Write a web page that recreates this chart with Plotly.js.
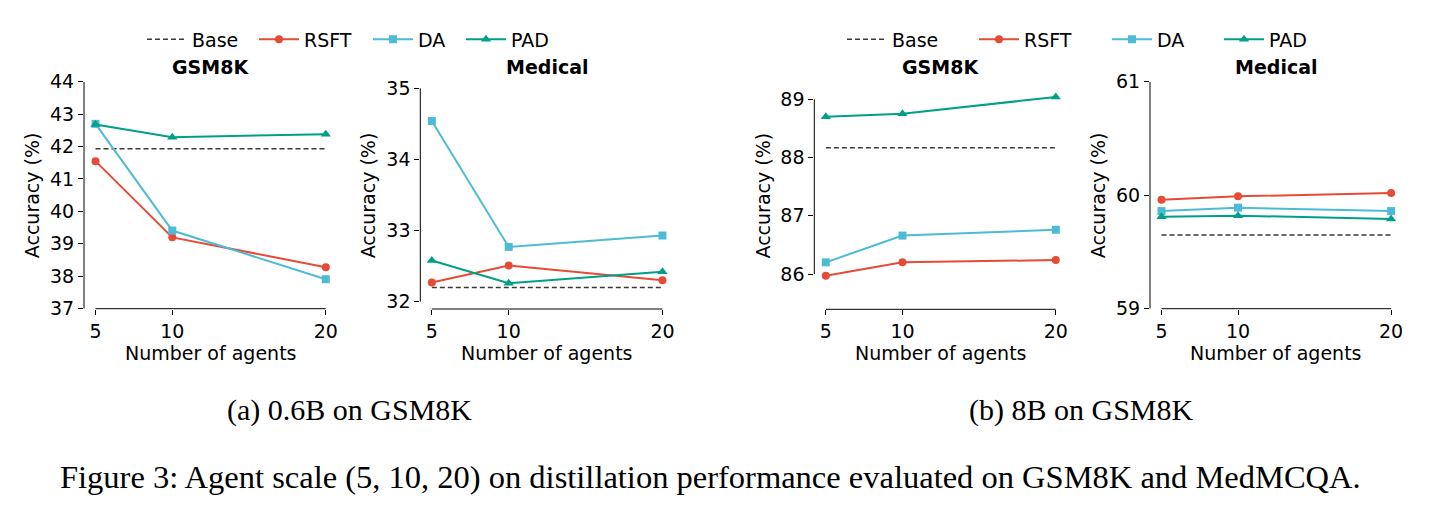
<!DOCTYPE html>
<html>
<head>
<meta charset="utf-8">
<script src="https://cdn.plot.ly/plotly-3.0.1.min.js"></script>
<style>
  html, body { margin: 0; padding: 0; background: #fff; }
  #fig { width: 1433px; height: 511px; }
</style>
</head>
<body>
<div id="fig"></div>
<script>
// Number of agents on the x axis
const agents = [5, 10, 20];

// (a) 0.6B model
const gsm06Base = 41.93;
const gsm06RSFT = [41.55, 39.20, 38.28];
const gsm06DA   = [42.70, 39.41, 37.91];
const gsm06PAD  = [42.68, 42.29, 42.38];

const med06Base = 32.20;
const med06RSFT = [32.27, 32.51, 32.30];
const med06DA   = [34.54, 32.77, 32.93];
const med06PAD  = [32.58, 32.26, 32.42];

// (b) 8B model
const gsm8Base = 88.17;
const gsm8RSFT = [85.97, 86.20, 86.24];
const gsm8DA   = [86.20, 86.66, 86.76];
const gsm8PAD  = [88.70, 88.75, 89.04];

const med8Base = 59.65;
const med8RSFT = [59.96, 59.99, 60.02];
const med8DA   = [59.86, 59.89, 59.86];
const med8PAD  = [59.81, 59.82, 59.79];

// Tick labels
const xTicks = [5, 10, 20];
const yTicksGsm06 = [37, 38, 39, 40, 41, 42, 43, 44];
const yTicksMed06 = [32, 33, 34, 35];
const yTicksGsm8  = [86, 87, 88, 89];
const yTicksMed8  = [59, 60, 61];

const seriesNames = ['Base', 'RSFT', 'DA', 'PAD'];
const panelTitles = ['GSM8K', 'Medical', 'GSM8K', 'Medical'];
const captions = ['(a) 0.6B on GSM8K', '(b) 8B on GSM8K',
  'Figure 3: Agent scale (5, 10, 20) on distillation performance evaluated on GSM8K and MedMCQA.'];

// ---- styling / layout helpers ----
const W = 1433, H = 511;
const px = v => v / W;
const py = v => 1 - v / H;
const FONT = 'DejaVu Sans, sans-serif';
const FS = 19;
const SERIF = 'Liberation Serif, Times New Roman, serif';
const COL = { Base: '#3a3a3a', RSFT: '#E64B35', DA: '#4DBBD5', PAD: '#00A087' };
const SYM = { RSFT: 'circle', DA: 'square', PAD: 'triangle-up' };
const MSIZE = { RSFT: 8, DA: 8, PAD: 9 };

// axis boxes in pixels: [left, right, top, bottom], y range
const panels = [
  { box: [84, 337.3, 81.7, 308.7], yr: [37, 44], ticks: yTicksGsm06,
    base: gsm06Base, data: { RSFT: gsm06RSFT, DA: gsm06DA, PAD: gsm06PAD } },
  { box: [420.3, 674, 81.7, 309], yr: [31.897, 35.093], ticks: yTicksMed06,
    base: med06Base, data: { RSFT: med06RSFT, DA: med06DA, PAD: med06PAD } },
  { box: [814.3, 1067.3, 81.7, 309.3], yr: [85.394, 89.302], ticks: yTicksGsm8,
    base: gsm8Base, data: { RSFT: gsm8RSFT, DA: gsm8DA, PAD: gsm8PAD } },
  { box: [1150, 1402.6, 81.7, 308.7], yr: [59, 61], ticks: yTicksMed8,
    base: med8Base, data: { RSFT: med8RSFT, DA: med8DA, PAD: med8PAD } }
];

// legend entry positions (line start, px) for each half
const legendStarts = [[147, 259, 373, 466], [847, 979, 1112, 1224]];

const traces = [];
const layout = {
  width: W, height: H,
  margin: { l: 0, r: 0, t: 0, b: 0 },
  paper_bgcolor: '#fff', plot_bgcolor: 'rgba(0,0,0,0)',
  font: { family: FONT, size: FS, color: '#000' },
  shapes: [], annotations: []
};

panels.forEach((p, i) => {
  const n = i + 1;
  const xa = 'x' + (n === 1 ? '' : n), ya = 'y' + (n === 1 ? '' : n);
  const xk = 'xaxis' + (n === 1 ? '' : n), yk = 'yaxis' + (n === 1 ? '' : n);
  const [l, r, t, b] = p.box;
  layout[xk] = {
    domain: [px(l), px(r)], range: [4.25, 20.75], anchor: ya,
    tickvals: xTicks, ticktext: xTicks.map(String),
    ticks: 'outside', ticklen: 5, tickwidth: 1, tickcolor: '#000',
    showline: false, showgrid: false, zeroline: false, fixedrange: true,
    tickfont: { family: FONT, size: FS, color: '#000' }
  };
  layout[yk] = {
    domain: [py(b), py(t)], range: p.yr, anchor: xa,
    tickvals: p.ticks, ticktext: p.ticks.map(String),
    ticks: 'outside', ticklen: 5, tickwidth: 1, tickcolor: '#000',
    showline: false, showgrid: false, zeroline: false, fixedrange: true,
    tickfont: { family: FONT, size: FS, color: '#000' }
  };
  // trimmed spines
  layout.shapes.push({ type: 'line', xref: xa, yref: ya + ' domain',
    x0: xTicks[0], x1: xTicks[xTicks.length - 1], y0: 0, y1: 0,
    line: { color: '#000', width: 1 } });
  layout.shapes.push({ type: 'line', xref: xa + ' domain', yref: ya,
    x0: 0, x1: 0, y0: p.ticks[0], y1: p.ticks[p.ticks.length - 1],
    line: { color: '#000', width: 1 } });

  const half = i < 2 ? 0 : 1;
  const showLeg = (i === 0 || i === 2);
  const legId = k => {
    const idx = half * 4 + k + 1;
    return idx === 1 ? 'legend' : 'legend' + idx;
  };

  traces.push({
    type: 'scatter', mode: 'lines', name: 'Base', xaxis: xa, yaxis: ya,
    x: [agents[0], agents[agents.length - 1]], y: [p.base, p.base],
    line: { color: COL.Base, width: 1.5, dash: '5px,3px' },
    showlegend: showLeg, legend: legId(0), cliponaxis: false
  });
  ['RSFT', 'DA', 'PAD'].forEach((s, k) => {
    traces.push({
      type: 'scatter', mode: 'lines+markers', name: s, xaxis: xa, yaxis: ya,
      x: agents, y: p.data[s],
      line: { color: COL[s], width: 2 },
      marker: { color: COL[s], symbol: SYM[s], size: MSIZE[s] },
      showlegend: showLeg, legend: legId(k + 1), cliponaxis: false
    });
  });

  // panel title
  layout.annotations.push({ text: '<b>' + panelTitles[i] + '</b>', xref: 'paper', yref: 'paper',
    x: px((l + r) / 2), y: py(67), xanchor: 'center', yanchor: 'middle', showarrow: false,
    font: { family: FONT, size: FS, color: '#000' } });
  // axis titles
  layout.annotations.push({ text: 'Number of agents', xref: 'paper', yref: 'paper',
    x: px((l + r) / 2), y: py(353), xanchor: 'center', yanchor: 'middle', showarrow: false,
    font: { family: FONT, size: FS, color: '#000' } });
  const ytx = [32, 368, 762, 1098][i];
  layout.annotations.push({ text: 'Accuracy (%)', xref: 'paper', yref: 'paper',
    x: px(ytx), y: py((t + b) / 2), xanchor: 'center', yanchor: 'middle', textangle: -90,
    showarrow: false, font: { family: FONT, size: FS, color: '#000' } });
});

// one legend per entry so each sits where it belongs
legendStarts.forEach((row, h) => {
  row.forEach((xs, k) => {
    const idx = h * 4 + k + 1;
    const key = idx === 1 ? 'legend' : 'legend' + idx;
    layout[key] = {
      orientation: 'h', x: px(xs - 5), xanchor: 'left', y: py(39.5), yanchor: 'middle',
      bgcolor: 'rgba(0,0,0,0)', borderwidth: 0, itemwidth: 40,
      font: { family: FONT, size: FS, color: '#000' }, itemclick: false, itemdoubleclick: false
    };
  });
});

// sub-figure captions and figure caption
[[captions[0], 349, 410, 30], [captions[1], 1081, 410, 30], [captions[2], 710, 477, 32.5]].forEach(c => {
  layout.annotations.push({ text: c[0], xref: 'paper', yref: 'paper',
    x: px(c[1]), y: py(c[2]), xanchor: 'center', yanchor: 'middle', showarrow: false,
    font: { family: SERIF, size: c[3], color: '#000' } });
});

Plotly.newPlot('fig', traces, layout, { displayModeBar: false, staticPlot: true });
</script>
</body>
</html>
